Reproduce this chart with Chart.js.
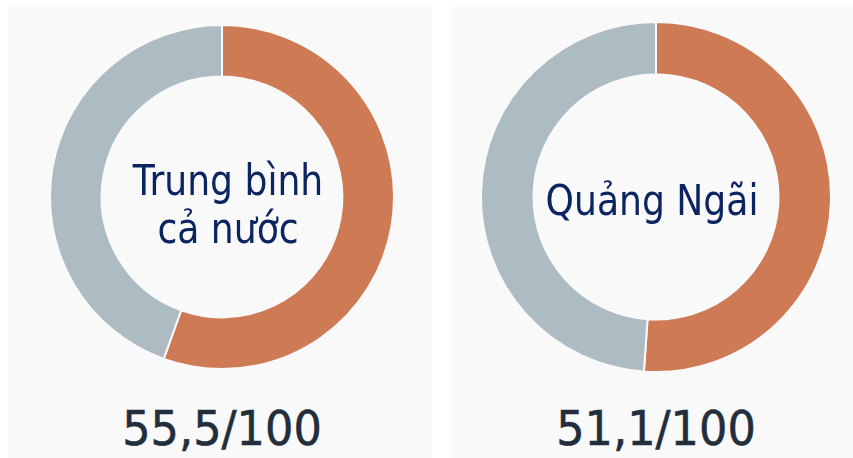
<!DOCTYPE html>
<html>
<head>
<meta charset="utf-8">
<script src="https://cdn.jsdelivr.net/npm/chart.js@4"></script>
<style>
  body { margin: 0; background: #fff; width: 853px; height: 458px; position: relative; overflow: hidden; }
  .panel { position: absolute; top: 7px; height: 451px; background: #f9f9f9; }
  .donut { position: absolute; }
  .label, .score {
    position: absolute; width: 400px; text-align: center; white-space: nowrap;
    font-family: "DejaVu Sans", sans-serif; transform-origin: center;
  }
  .label { color: #0c2461; font-size: 42px; line-height: 48px; transform: scaleX(0.86); }
  .score { color: #222e3c; font-size: 48px; line-height: 56px; transform: scaleX(0.93); -webkit-text-stroke: 0.6px #222e3c; }
</style>
</head>
<body>
<div class="panel" style="left:8px;width:424px"></div>
<div class="panel" style="left:452px;width:401px"></div>
<canvas id="donut0" class="donut" width="346" height="346" style="left:49px;top:24px"></canvas>
<canvas id="donut1" class="donut" width="352" height="352" style="left:480px;top:21px"></canvas>
<script>
document.addEventListener('DOMContentLoaded', function () {
  // data
  const regions = ['Trung bình cả nước', 'Quảng Ngãi'];
  const labelLines = [['Trung bình', 'cả nước'], ['Quảng Ngãi']];
  const scores = [55.5, 51.1];
  const maxScore = 100;
  const scoreText = ['55,5/100', '51,1/100'];

  // layout per panel (centre x, label top)
  const centres = [222, 656];
  const labelTops = [157, 177];

  regions.forEach((region, i) => {
    new Chart(document.getElementById('donut' + i).getContext('2d'), {
      type: 'doughnut',
      data: {
        labels: [region, 'Còn lại'],
        datasets: [{
          data: [scores[i], maxScore - scores[i]],
          backgroundColor: ['#cd7a55', '#adbbc2'],
          borderColor: '#f9f9f9',
          borderWidth: 2,
          hoverOffset: 0
        }]
      },
      options: {
        responsive: false,
        animation: false,
        cutout: '70%',
        plugins: { legend: { display: false }, tooltip: { enabled: false } }
      }
    });

    const label = document.createElement('div');
    label.className = 'label';
    label.style.left = (centres[i] - 200 + (i === 0 ? 6 : -4)) + 'px';
    label.style.top = labelTops[i] + 'px';
    label.innerHTML = labelLines[i].join('<br>');
    document.body.appendChild(label);

    const score = document.createElement('div');
    score.className = 'score';
    score.style.left = (centres[i] - 200) + 'px';
    score.style.top = '400px';
    score.textContent = scoreText[i];
    document.body.appendChild(score);
  });
});
</script>
</body>
</html>
